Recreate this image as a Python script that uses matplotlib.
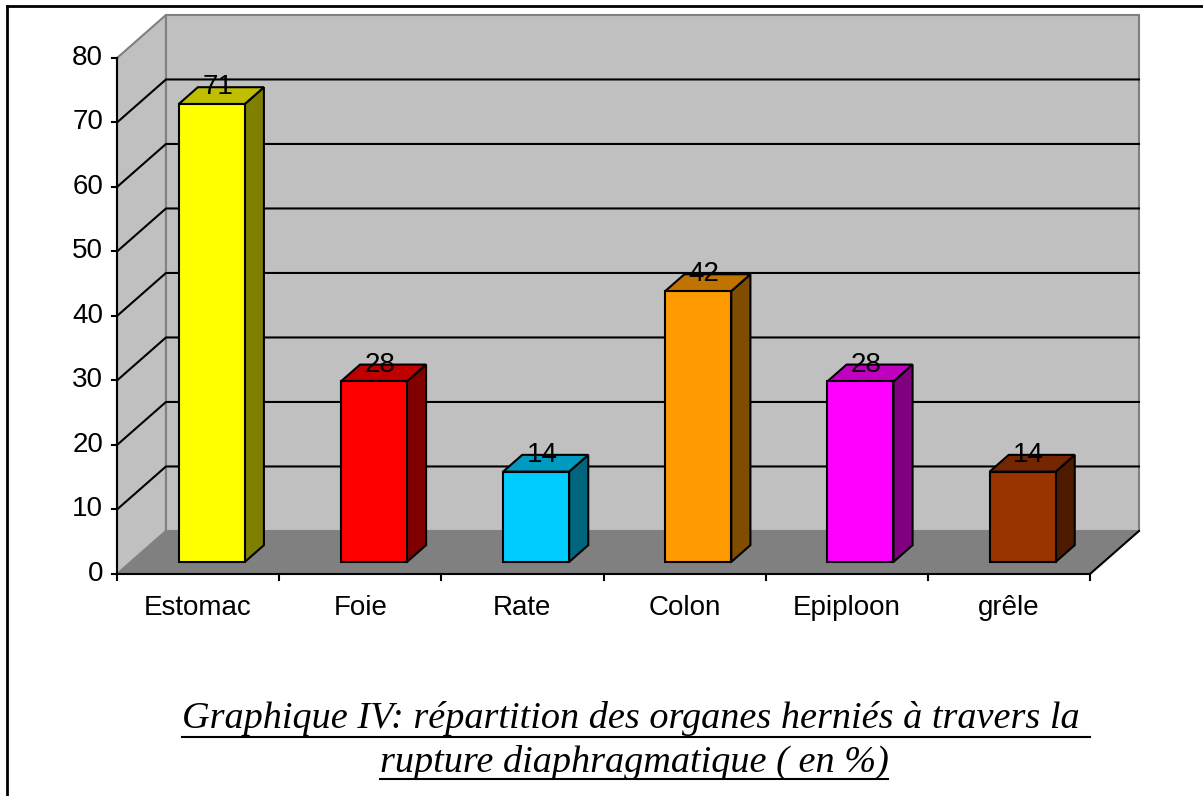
import matplotlib.pyplot as plt
from matplotlib.patches import Polygon
from matplotlib.lines import Line2D

organes = ['Estomac', 'Foie', 'Rate', 'Colon', 'Epiploon', 'grêle']
pourcent = [71, 28, 14, 42, 28, 14]
face_col = ['#FFFF00', '#FF0000', '#00CCFF', '#FF9900', '#FF00FF', '#993300']
side_col = ['#808000', '#800000', '#006680', '#804C00', '#800080', '#4D1A00']
top_col = ['#BFBF00', '#BF0000', '#0099BF', '#BF7300', '#BF00BF', '#732600']
yticks = [0, 10, 20, 30, 40, 50, 60, 70, 80]

# fausse 3D a la Excel: decalage de profondeur
DX = 0.302     # en categories
DY = 6.67      # en unites de valeur
t0, t1 = 0.28, 0.67   # profondeur avant / arriere des barres
w = 0.407
vmax = 80
n = len(organes)

plt.rcParams['font.family'] = ['Liberation Sans', 'DejaVu Sans']

fig = plt.figure(figsize=(12.03, 7.96), dpi=100)
ax = fig.add_axes([0, 0, 1, 1])
ax.set_xlim(-1.2215, 6.1967)
ax.set_ylim(-34.42, 88.99)
ax.axis('off')

x0, x1 = -0.5, n - 0.5
# mur gauche
ax.add_patch(Polygon([(x0, 0), (x0, vmax), (x0 + DX, vmax + DY), (x0 + DX, DY)],
                     closed=True, fc='#C0C0C0', ec='#808080', lw=1.5, zorder=1))
# mur du fond
ax.add_patch(Polygon([(x0 + DX, DY), (x0 + DX, vmax + DY), (x1 + DX, vmax + DY), (x1 + DX, DY)],
                     closed=True, fc='#C0C0C0', ec='#808080', lw=1.5, zorder=1))
# sol
ax.add_patch(Polygon([(x0, 0), (x1, 0), (x1 + DX, DY), (x0 + DX, DY)],
                     closed=True, fc='#808080', ec='none', zorder=1))
ax.plot([x1, x1 + DX], [0, DY], color='black', lw=1.5, zorder=2)

# quadrillage
for v in yticks[1:-1]:
    ax.plot([x0, x0 + DX, x1 + DX], [v, v + DY, v + DY], color='black', lw=1.5, zorder=2)

# axes avant
ax.plot([x0, x0], [0, vmax], color='black', lw=1.5, zorder=5)
ax.plot([x0, x1], [0, 0], color='black', lw=1.5, zorder=5)
for v in yticks:
    ax.plot([x0 - 0.03, x0], [v, v], color='black', lw=1.5, zorder=5)
    ax.text(x0 - 0.086, v, str(v), ha='right', va='center', fontsize=20)
for k in range(n + 1):
    ax.plot([x0 + k, x0 + k], [0, -1.0], color='black', lw=1.5, zorder=5)

# barres
xf = [i + t0 * DX for i in range(n)]
ax.bar(xf, pourcent, width=w, bottom=t0 * DY, color=face_col,
       edgecolor='black', linewidth=1.5, zorder=4)
dxs = (t1 - t0) * DX
dys = (t1 - t0) * DY
for i, v in enumerate(pourcent):
    l, r = xf[i] - w / 2, xf[i] + w / 2
    b, t = t0 * DY, t0 * DY + v
    ax.add_patch(Polygon([(r, b), (r + dxs, b + dys), (r + dxs, t + dys), (r, t)],
                         closed=True, fc=side_col[i], ec='black', lw=1.5, zorder=3))
    ax.add_patch(Polygon([(l, t), (r, t), (r + dxs, t + dys), (l + dxs, t + dys)],
                         closed=True, fc=top_col[i], ec='black', lw=1.5, zorder=3))
    ax.text(xf[i] + 0.037, t + dys, str(v), ha='center', va='center', fontsize=20, zorder=6)
    ax.text(i, -5.27, organes[i], ha='center', va='center', fontsize=20)

# cadre
fig.add_artist(Line2D([7 / 1203, 1], [1 - 6 / 796, 1 - 6 / 796], color='black', lw=2))
fig.add_artist(Line2D([7 / 1203, 7 / 1203], [0, 1 - 6 / 796], color='black', lw=2))

# titre souligne
tfont = dict(family='Liberation Serif', style='italic', fontsize=27.5, ha='center', va='baseline')
l1 = fig.text(636 / 1203, 1 - 728 / 796, 'Graphique IV: répartition des organes herniés à travers la ', **tfont)
l2 = fig.text(634 / 1203, 1 - 772 / 796, 'rupture diaphragmatique ( en %)', **tfont)
fig.canvas.draw()
rend = fig.canvas.get_renderer()
for txt, yu in [(l1, 737), (l2, 779)]:
    bb = txt.get_window_extent(rend)
    fig.add_artist(Line2D([bb.x0 / 1203, bb.x1 / 1203], [1 - yu / 796, 1 - yu / 796],
                          color='black', lw=1.5))

fig.savefig('out.png', dpi=100)
